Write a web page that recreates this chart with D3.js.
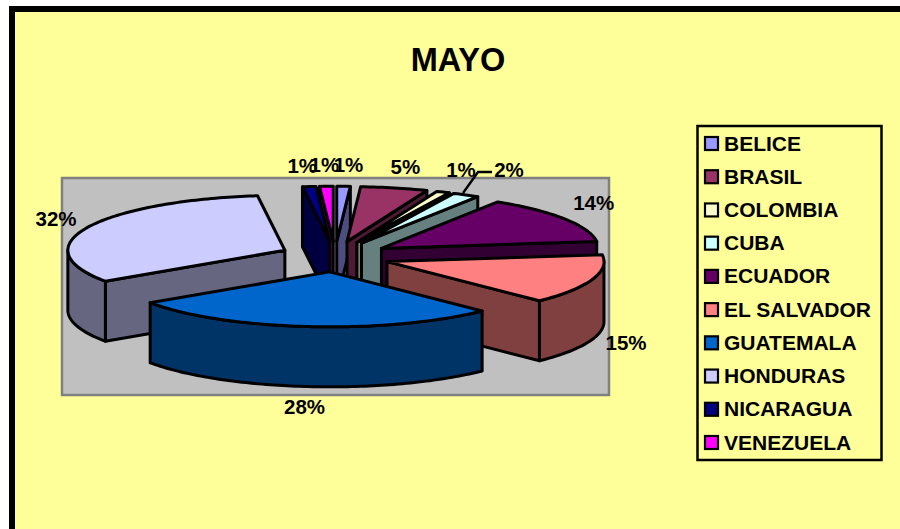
<!DOCTYPE html>
<html><head><meta charset="utf-8">
<script src="https://cdn.jsdelivr.net/npm/d3@7"></script>
<style>html,body{margin:0;padding:0;background:#fff}svg{display:block}text{font-family:"Liberation Sans",Arial,sans-serif;font-weight:bold;fill:#000}</style>
</head><body><svg id="c" width="900" height="529"></svg>
<script>
const categories = ["BELICE","BRASIL","COLOMBIA","CUBA","ECUADOR","EL SALVADOR","GUATEMALA","HONDURAS","NICARAGUA","VENEZUELA"];
const values = [1,5,1,2,14,14.6,27.9,32.49,1,1.01];
const colors = ["#9999FF","#993366","#FFFFCC","#CCFFFF","#660066","#FF8080","#0066CC","#CCCCFF","#000080","#FF00FF"];
const titleText = "MAYO";
const labelNudgeX = [5,11,18,43,29,34,-4,-31,-7,-2];
const labelNudgeY = [-21,-21,-22,-25,-16,63,80,-9,-21,-21];

const svg = d3.select("#c");
const cx = 335, cy = 256.6, rx = 217, ry = 55, explode = 55, depth = 60;
const tilt = ry / rx * 1.1;
const total = d3.sum(values);

// frame
svg.append("rect").attr("x",12).attr("y",9).attr("width",1000).attr("height",1000)
  .attr("fill","#FFFF99").attr("stroke","#000").attr("stroke-width",6);
svg.append("text").attr("x",458).attr("y",71).attr("text-anchor","middle").attr("font-size",32.5).text(titleText);
// plot area
svg.append("rect").attr("x",62).attr("y",178).attr("width",547).attr("height",217)
  .attr("fill","#C0C0C0").attr("stroke","#808080").attr("stroke-width",2.5);

const arcs = d3.pie().sort(null).value(d => d)(values);
const slices = arcs.map((a,i) => {
  const mid = (a.startAngle + a.endAngle)/2;
  const ax = cx + explode*Math.sin(mid), ay = cy - explode*tilt*Math.cos(mid);
  const pt = t => [ax + rx*Math.sin(t), ay - ry*Math.cos(t)];
  return {i, mid, start:a.startAngle, end:a.endAngle, ax, ay, pt, color:colors[i]};
});
const sampled = (s,e) => { const n = Math.max(2, Math.ceil((e-s)/0.02)); return d3.range(n+1).map(k => s+(e-s)*k/n); };
const line = d3.line();
const dark = c => { const r = d3.rgb(c); return d3.rgb(r.r*0.5, r.g*0.5, r.b*0.5).formatHex(); };
const face = (g, pts, fill) => g.append("path").attr("d", line(pts)+"Z").attr("fill",fill)
  .attr("stroke","#000").attr("stroke-width",3).attr("stroke-linejoin","round");

const order = slices.slice().sort((a,b) => Math.cos(b.mid)-Math.cos(a.mid));
order.forEach(s => {
  const g = svg.append("g"), side = dark(s.color), A = [s.ax,s.ay];
  const wall = t => { const p = s.pt(t); face(g,[A,p,[p[0],p[1]+depth],[A[0],A[1]+depth]],side); };
  if (Math.sin(s.start) < 0) wall(s.start);
  if (Math.sin(s.end) > 0) wall(s.end);
  const a0 = Math.max(s.start, Math.PI/2), a1 = Math.min(s.end, Math.PI*1.5);
  if (a1 > a0) {
    const top = sampled(a0,a1).map(s.pt);
    face(g, top.concat(top.slice().reverse().map(p => [p[0],p[1]+depth])), side);
  }
  face(g, [A].concat(sampled(s.start,s.end).map(s.pt)), s.color);
});

// data labels
slices.forEach(s => {
  const p = s.pt(s.mid), x = p[0]+labelNudgeX[s.i], y = p[1]+labelNudgeY[s.i];
  svg.append("text").attr("x",x).attr("y",y+7).attr("text-anchor","middle").attr("font-size",20.5)
    .text(Math.round(values[s.i]/total*100)+"%");
  if (categories[s.i]==="CUBA") {
    svg.append("path").attr("d", line([[p[0]-3,p[1]-2],[x-31,y+2],[x-17,y+2]]))
      .attr("fill","none").attr("stroke","#000").attr("stroke-width",2.4);
  }
});

// legend
const legendY = d3.scalePoint().domain(categories).range([143.5,442.5]);
svg.append("rect").attr("x",697.5).attr("y",126).attr("width",184).attr("height",334)
  .attr("fill","#FFFF99").attr("stroke","#000").attr("stroke-width",2.5);
categories.forEach((c,i) => {
  const y = legendY(c);
  svg.append("rect").attr("x",705).attr("y",y-6.5).attr("width",13).attr("height",13)
    .attr("fill",colors[i]).attr("stroke","#000").attr("stroke-width",2.2);
  svg.append("text").attr("x",724).attr("y",y+7).attr("font-size",21).text(c);
});
</script></body></html>
